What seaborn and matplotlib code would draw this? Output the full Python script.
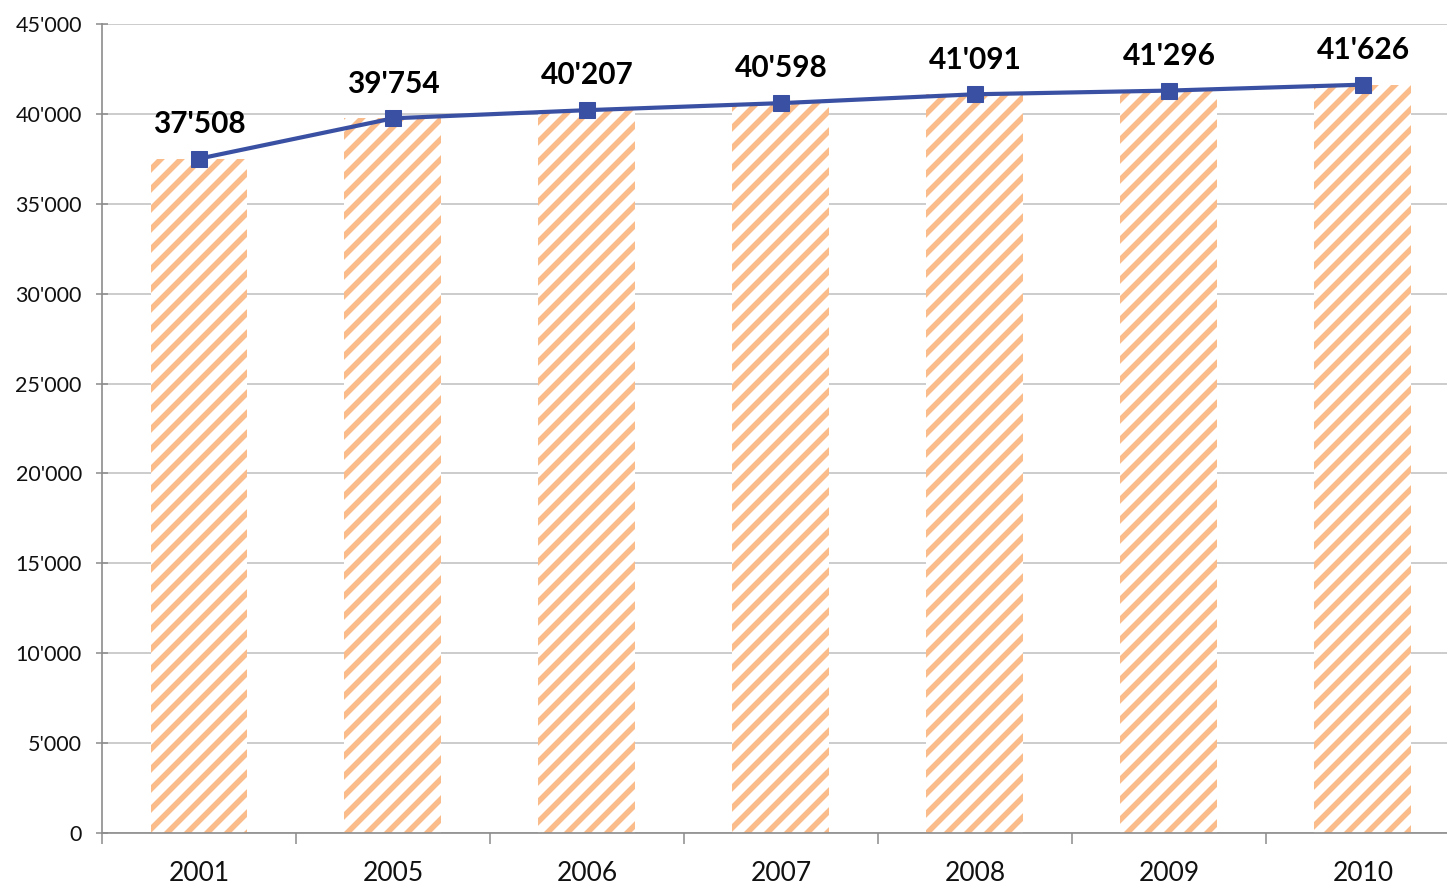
import matplotlib
matplotlib.use("Agg")
import matplotlib.pyplot as plt
import matplotlib.ticker as mticker
import matplotlib.hatch as mhatch
import seaborn as sns
import numpy as np
import pandas as pd

years = ["2001", "2005", "2006", "2007", "2008", "2009", "2010"]
values = [37508, 39754, 40207, 40598, 41091, 41296, 41626]


class _WideNE(mhatch.NorthEastHatch):
    """Diagonal hatch with a spacing between '/' and '//'."""
    def __init__(self, hatch, density):
        super().__init__(hatch, density)
        if self.num_lines:
            self.num_lines = 10
            self.num_vertices = (self.num_lines + 1) * 2


mhatch._hatch_types = [_WideNE if c is mhatch.NorthEastHatch else c
                       for c in mhatch._hatch_types]

sns.set_theme(style="white")
plt.rcParams["font.family"] = ["Lato", "DejaVu Sans"]
plt.rcParams["hatch.linewidth"] = 4.0

def fmt(v, pos=None):
    return f"{int(v):,}".replace(",", "'")

df = pd.DataFrame({"year": years, "value": values})

fig = plt.figure(figsize=(14.47, 8.83), dpi=100)
ax = fig.add_axes([102/1447, 50/883, 1358/1447, 809/883])

bar_color = "#F9BC8A"
sns.barplot(data=df, x="year", y="value", ax=ax, width=0.5,
            color="white", edgecolor=bar_color, linewidth=0, hatch="/",
            saturation=1, zorder=2)
for p in ax.patches:
    p.set_hatch("/")
    p.set_edgecolor(bar_color)
    p.set_linewidth(0)

pos = np.arange(len(years))
sns.lineplot(x=pos, y=values, ax=ax, color="#3A51A3", linewidth=3,
             marker="s", markersize=11, markeredgecolor="#3A51A3", zorder=4)

for x, v in zip(pos, values):
    ax.annotate(fmt(v), (x, v), xytext=(0, 25), textcoords="offset points",
                ha="center", va="center", fontsize=21.5, fontweight="bold",
                color="black")

ax.set_xlim(-0.5, len(years) - 0.5)
ax.set_ylim(0, 45000)
ax.yaxis.set_major_locator(mticker.MultipleLocator(5000))
ax.yaxis.set_major_formatter(mticker.FuncFormatter(fmt))
ax.grid(axis="y", color="#BFBFBF", linewidth=1.1, zorder=0)
ax.set_axisbelow(True)
ax.set_xlabel("")
ax.set_ylabel("")

for s in ["top", "right"]:
    ax.spines[s].set_visible(False)
for s in ["left", "bottom"]:
    ax.spines[s].set_color("#8C8C8C")
    ax.spines[s].set_linewidth(1.2)

ax.tick_params(axis="y", which="major", direction="inout", length=9,
               width=1.1, color="#8C8C8C", labelsize=15.5, pad=10,
               left=True, labelcolor="#111111")
ax.set_xticks(pos)
ax.set_xticklabels(years)
ax.tick_params(axis="x", which="major", length=0, labelsize=19, pad=20,
               labelcolor="#111111")
ax.set_xticks(np.arange(len(years) + 1) - 0.5, minor=True)
ax.tick_params(axis="x", which="minor", direction="out", length=8,
               width=1.1, color="#8C8C8C", bottom=True)

fig.savefig("out.png", dpi=100)
